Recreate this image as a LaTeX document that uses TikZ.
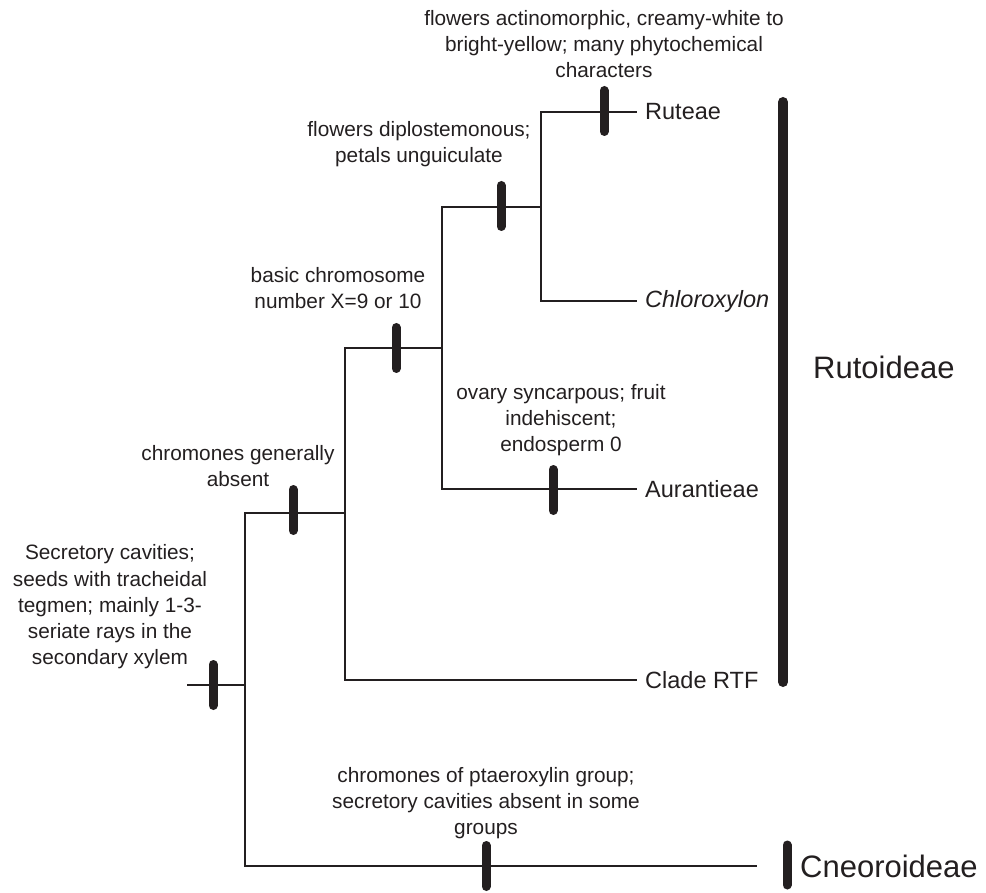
\documentclass[tikz,border=0pt]{standalone}
\usepackage{fontspec}
\setmainfont{Liberation Sans}
\usetikzlibrary{positioning}
\definecolor{tinta}{RGB}{35,31,32}
\tikzset{
	ramo/.style={line width=2pt, draw=tinta},
	marca/.style={line width=9pt, draw=tinta, line cap=round},
	taxon/.style={anchor=west, inner xsep=8pt, inner ysep=0pt, font=\fontsize{23.5}{28}\selectfont, text=tinta},
	nota/.style={align=center, inner sep=0pt, font=\fontsize{20.8}{26.3}\selectfont, text=tinta},
	grupo/.style={anchor=west, inner sep=0pt, font=\fontsize{31}{36}\selectfont, text=tinta}
}
\begin{document}
\begin{tikzpicture}[x=1pt, y=-1pt]
	\useasboundingbox (0,0) rectangle (986,893);

% Nos
	\coordinate (raiz) at (187,685);
	\coordinate (n0) at (245,685);
	\coordinate (n1) at (345,513);
	\coordinate (n2) at (442,348);
	\coordinate (n3) at (541,207);
	\coordinate (cnf) at (757,866);

% Terminais
	\node[taxon] (rut) at (637,112) {Ruteae};
	\node[taxon] (chl) at (637,301) {\itshape Chloroxylon};
	\node[taxon] (aur) at (637,489) {Aurantieae};
	\node[taxon] (rtf) at (637,680) {Clade RTF};

% Ramos
	\draw[ramo] (raiz) -- (n0);
	\draw[ramo] (n0) |- (n1);
	\draw[ramo] (n0) |- (cnf);
	\draw[ramo] (n1) |- (n2);
	\draw[ramo] (n1) |- (rtf.west);
	\draw[ramo] (n2) |- (n3);
	\draw[ramo] (n2) |- (aur.west);
	\draw[ramo] (n3) |- (rut.west);
	\draw[ramo] (n3) |- (chl.west);

% Caracteres
	\foreach \x/\y in {213/685, 293/510, 396/348, 501/206, 604/111, 553/490, 486/866}
		\draw[marca] (\x,\y-20.5) -- (\x,\y+20.5);

	\node[nota] (c1) at (110,607) {Secretory cavities;\\seeds with tracheidal\\tegmen; mainly 1-3-\\seriate rays in the\\secondary xylem};
	\node[nota] (c2) at (238,466) {chromones generally\\absent};
	\node[nota] (c3) at (338,288) {basic chromosome\\number X=9 or 10};
	\node[nota] (c4) at (561,420) {ovary syncarpous; fruit\\indehiscent;\\endosperm 0};
	\node[nota] (c5) at (419,144) {flowers diplostemonous;\\petals unguiculate};
	\node[nota] (c6) at (604,44) {flowers actinomorphic, creamy-white to\\bright-yellow; many phytochemical\\characters};
	\node[nota] (c7) at (486,803) {chromones of ptaeroxylin group;\\secretory cavities absent in some\\groups};

% Subfamilias
	\draw[marca, line width=10pt] (783,102) -- (783,682);
	\node[grupo] (ruto) at (813,367) {Rutoideae};
	\draw[marca] (787,845) -- (787,885);
	\node[grupo] (cneo) at (800,866) {Cneoroideae};

\end{tikzpicture}
\end{document}
